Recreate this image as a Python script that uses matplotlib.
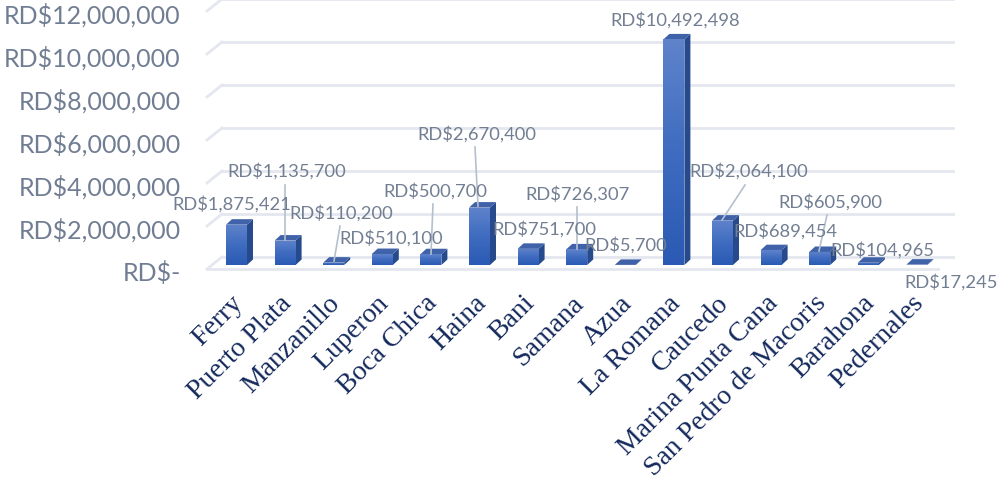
import numpy as np
import matplotlib
matplotlib.use("Agg")
import matplotlib.pyplot as plt
from matplotlib.patches import Polygon
from matplotlib.colors import LinearSegmentedColormap
from matplotlib.transforms import ScaledTranslation

categories = ["Ferry", "Puerto Plata", "Manzanillo", "Luperon", "Boca Chica", "Haina", "Bani", "Samana",
              "Azua", "La Romana", "Caucedo", "Marina Punta Cana", "San Pedro de Macoris", "Barahona", "Pedernales"]
values = [1875421, 1135700, 110200, 510100, 500700, 2670400, 751700, 726307,
          5700, 10492498, 2064100, 689454, 605900, 104965, 17245]
y_ticks = [0, 2000000, 4000000, 6000000, 8000000, 10000000, 12000000]
y_tick_labels = ["RD$-", "RD$2,000,000", "RD$4,000,000", "RD$6,000,000", "RD$8,000,000", "RD$10,000,000", "RD$12,000,000"]

# layout (pixels) kept apart from data
W, H = 997, 481
label_px = [(232, 204), (287, 171), (341, 213), (391, 238), (435, 191), (477, 134), (544, 229), (578, 194),
            (626, 245), (675, 20), (749, 171), (785, 231), (830, 202), (882, 250), (951, 282)]
leaders_px = [((285, 186), (285, 241)), ((340, 227), (334, 262)), ((433, 205), (431, 255)),
              ((475, 148), (478, 207)), ((577, 208), (577, 250)), ((745, 186), (722, 221)),
              ((827, 216), (819, 252))]
X0, STEP, Y0, SCALE = 236.5, 48.6, 266, 21.5e-6

plt.rcParams["font.family"] = ["Lato", "DejaVu Sans"]
fig = plt.figure(figsize=(W / 100, H / 100), dpi=100)
ax = fig.add_axes([207 / W, (H - 270) / H, (953 - 207) / W, 270 / H])
ax.set_xlim((207 - X0) / STEP, (953 - X0) / STEP)
ax.set_ylim(-4 / SCALE, Y0 / SCALE)
for s in ax.spines.values():
    s.set_visible(False)
ax.patch.set_alpha(0)

px2x = lambda p: (p - X0) / STEP
grid_c = "#e4e7ef"
back = 8 / SCALE
front = -4 / SCALE
for v in y_ticks:
    ax.plot([px2x(222), px2x(953)], [v + back] * 2, color=grid_c, lw=2.0, zorder=1, clip_on=False)
    ax.plot([px2x(207), px2x(222)], [v + front, v + back], color=grid_c, lw=2.0, zorder=1, clip_on=False)
ax.plot([px2x(207), px2x(938)], [front, front], color=grid_c, lw=2.0, zorder=1, clip_on=False)

cmap = LinearSegmentedColormap.from_list("face", ["#5f83cb", "#3f6cc0", "#2a5ab4"])
half = 10.5 / STEP
ddx, ddy = 6 / STEP, 5.5 / SCALE
xpos = np.arange(len(values))
xlim, ylim = ax.get_xlim(), ax.get_ylim()
bars = ax.bar(xpos, values, width=2 * half, color="none", zorder=3)
grad = np.linspace(0, 1, 64).reshape(-1, 1)
for x, v, b in zip(xpos, values, bars):
    im = ax.imshow(grad, cmap=cmap, aspect="auto", extent=(x - half, x + half, 0, v), zorder=4)
    im.set_clip_path(b)
    ax.add_patch(Polygon([(x + half, 0), (x + half + ddx, ddy), (x + half + ddx, v + ddy), (x + half, v)],
                         closed=True, fc="#264a8c", ec="none", zorder=3))
    ax.add_patch(Polygon([(x - half, v), (x + half, v), (x + half + ddx, v + ddy), (x - half + ddx, v + ddy)],
                         closed=True, fc="#3f62a8", ec="none", zorder=3))
ax.set_xlim(xlim)
ax.set_ylim(ylim)

ax.set_yticks(y_ticks)
ax.set_yticklabels(y_tick_labels, fontsize=18, color="#717d92")
ax.tick_params(axis="y", length=0, pad=19)
shift = ScaledTranslation(0, -5 / 100, fig.dpi_scale_trans)
for t in ax.get_yticklabels():
    t.set_transform(t.get_transform() + shift)

ax.set_xticks(xpos)
ax.set_xticklabels(categories, rotation=45, ha="right", va="top", rotation_mode="anchor",
                   fontsize=20, color="#14295c", family=["Liberation Serif"])
ax.tick_params(axis="x", length=0, pad=15)
shift_x = ScaledTranslation(-6 / 100, 0, fig.dpi_scale_trans)
for t in ax.get_xticklabels():
    t.set_transform(t.get_transform() + shift_x)

for (a, b) in leaders_px:
    fig.add_artist(plt.Line2D([a[0] / W, b[0] / W], [1 - a[1] / H, 1 - b[1] / H],
                              color="#b4c0cf", lw=1.2, zorder=6))
for v, (px, py) in zip(values, label_px):
    fig.text(px / W, 1 - py / H, f"RD${v:,}", ha="center", va="center", fontsize=13.2,
             color="#727f92", zorder=7)

fig.savefig("out.png", dpi=100)
